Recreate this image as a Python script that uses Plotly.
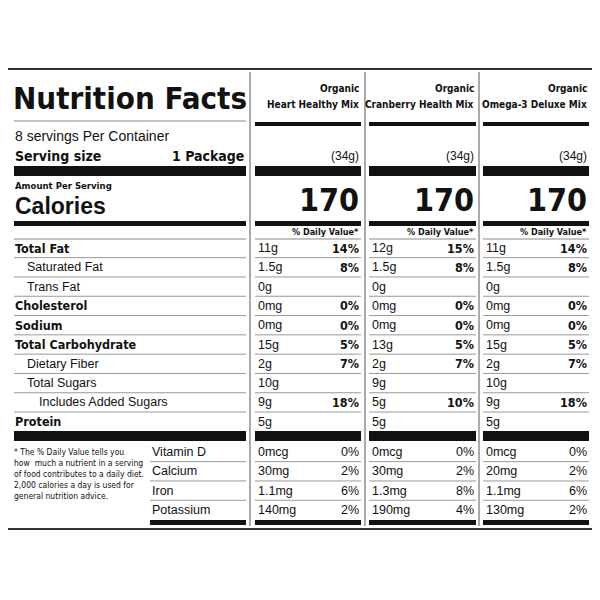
import plotly.graph_objects as go

# Data
products = ['Heart Healthy Mix', 'Cranberry Health Mix', 'Omega-3 Deluxe Mix']
serving_g = ['(34g)', '(34g)', '(34g)']
calories = [170, 170, 170]

nutrients = ['Total Fat', 'Saturated Fat', 'Trans Fat', 'Cholesterol', 'Sodium',
             'Total Carbohydrate', 'Dietary Fiber', 'Total Sugars', 'Includes Added Sugars', 'Protein']
nutrient_bold = [True, False, False, True, True, True, False, False, False, True]
nutrient_indent = [0, 1, 1, 0, 0, 0, 1, 1, 2, 0]
amounts = [
    ['11g', '1.5g', '0g', '0mg', '0mg', '15g', '2g', '10g', '9g', '5g'],
    ['12g', '1.5g', '0g', '0mg', '0mg', '13g', '2g', '9g', '5g', '5g'],
    ['11g', '1.5g', '0g', '0mg', '0mg', '15g', '2g', '10g', '9g', '5g'],
]
dv = [
    ['14%', '8%', '', '0%', '0%', '5%', '7%', '', '18%', ''],
    ['15%', '8%', '', '0%', '0%', '5%', '7%', '', '10%', ''],
    ['14%', '8%', '', '0%', '0%', '5%', '7%', '', '18%', ''],
]
vitamins = ['Vitamin D', 'Calcium', 'Iron', 'Potassium']
vit_amounts = [
    ['0mcg', '30mg', '1.1mg', '140mg'],
    ['0mcg', '30mg', '1.3mg', '190mg'],
    ['0mcg', '20mg', '1.1mg', '130mg'],
]
vit_dv = [
    ['0%', '2%', '6%', '2%'],
    ['0%', '2%', '8%', '4%'],
    ['0%', '2%', '6%', '2%'],
]
footnote = ('* The % Daily Value tells you<br>how  much a nutrient in a serving<br>'
            'of food contributes to a daily diet.<br>2,000 calories a day is used for<br>general nutrition advice.')

FONT = 'Liberation Sans, Arial'
COND = 'DejaVu Sans Condensed, Liberation Sans'
fig = go.Figure()
ann = []
shp = []

def text(x, y, s, size=12, bold=False, anchor='left', color='#111', family=FONT):
    ann.append(dict(x=x, y=y, text=f'<b>{s}</b>' if bold else s, showarrow=False, xanchor=anchor,
                    yanchor='middle', font=dict(family=family, size=size, color=color)))

def bar(x0, x1, y0, y1, color='#111'):
    shp.append(dict(type='rect', x0=x0, x1=x1, y0=y0, y1=y1, fillcolor=color, line_width=0))

def line(x0, x1, y, color='#888', w=1):
    shp.append(dict(type='line', x0=x0, x1=x1, y0=y, y1=y, line=dict(color=color, width=w)))

# outer border + column dividers
shp.append(dict(type='rect', x0=7, x1=593, y0=69, y1=529, line=dict(color='#333', width=2)))
cols = [(255, 361), (369, 476), (483, 589)]
for xd in [250, 365, 479]:
    shp.append(dict(type='line', x0=xd, x1=xd, y0=72, y1=526, line=dict(color='#aaa', width=2)))

# left panel header
text(11, 98, 'Nutrition Facts', 31, True, family=COND)
line(14, 246, 121, '#888')
text(13, 136, '8 servings Per Container', 14)
text(13, 156, 'Serving size', 14, True, family=COND)
text(246, 156, '1 Package', 14, True, 'right', family=COND)
bar(14, 246, 166, 176)
text(13, 185, 'Amount Per Serving', 9.5, True, family=COND)
text(13, 206, 'Calories', 23, True)
bar(14, 246, 221, 226)
line(14, 246, 239, '#888')

row_y0 = 248
row_h = 19.3
for i, n in enumerate(nutrients):
    y = row_y0 + i * row_h
    text(13 + 12 * nutrient_indent[i], y, n, 12.5, nutrient_bold[i], family=COND if nutrient_bold[i] else FONT)
    if i < len(nutrients) - 1:
        line(14, 246, y + row_h / 2, '#999')
bar(14, 246, 431, 441)

vit_y0 = 452
for i, v in enumerate(vitamins):
    y = vit_y0 + i * row_h
    text(150, y, v, 12.5)
    if i < len(vitamins) - 1:
        line(150, 246, y + row_h / 2, '#999')
bar(150, 246, 520, 525)
ann.append(dict(x=12, y=445, text=footnote, showarrow=False, xanchor='left', yanchor='top', align='left',
                font=dict(family=COND, size=8.5, color='#111')))

# product columns
for c, (x0, x1) in enumerate(cols):
    text(x1, 88, 'Organic', 10, True, 'right', family=COND)
    text(x1, 104, products[c], 10, True, 'right', family=COND)
    bar(x0, x1, 122, 126)
    text(x1, 156, serving_g[c], 12, False, 'right')
    bar(x0, x1, 166, 176)
    text(x1, 200, str(calories[c]), 32, True, 'right', family=COND)
    bar(x0, x1, 221, 226)
    text(x1, 232, '% Daily Value*', 9, True, 'right', family=COND)
    line(x0, x1, 239, '#888')
    for i in range(len(nutrients)):
        y = row_y0 + i * row_h
        text(x0 + 1, y, amounts[c][i], 12.5)
        if dv[c][i]:
            text(x1, y, dv[c][i], 12.5, True, 'right', family=COND)
        if i < len(nutrients) - 1:
            line(x0, x1, y + row_h / 2, '#999')
    bar(x0, x1, 431, 441)
    for i in range(len(vitamins)):
        y = vit_y0 + i * row_h
        text(x0 + 1, y, vit_amounts[c][i], 12.5)
        text(x1, y, vit_dv[c][i], 12.5, False, 'right')
        if i < len(vitamins) - 1:
            line(x0, x1, y + row_h / 2, '#999')
    bar(x0, x1, 520, 525)

# page body has an 8px margin, so the figure is 592 wide and the ranges start at 8
fig.update_layout(width=592, height=592, margin=dict(l=0, r=0, t=0, b=0),
                  plot_bgcolor='white', paper_bgcolor='white', showlegend=False,
                  xaxis=dict(range=[8, 600], visible=False, fixedrange=True),
                  yaxis=dict(range=[600, 8], visible=False, fixedrange=True),
                  annotations=ann, shapes=shp)
fig.write_html('out.html')
